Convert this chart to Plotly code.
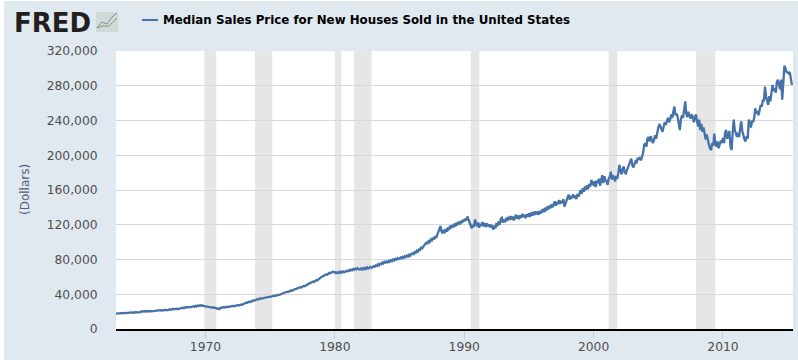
import pandas as pd
import plotly.graph_objects as go

title_text = "Median Sales Price for New Houses Sold in the United States"
y_ticks = [0, 40000, 80000, 120000, 160000, 200000, 240000, 280000, 320000]
x_ticks = ["1970-01-01", "1980-01-01", "1990-01-01", "2000-01-01", "2010-01-01"]
x_labels = ["1970", "1980", "1990", "2000", "2010"]
recession_starts = ["1969-12-01", "1973-11-01", "1980-01-01", "1981-07-01", "1990-07-01", "2001-03-01", "2007-12-01"]
recession_ends = ["1970-11-01", "1975-03-01", "1980-07-01", "1982-11-01", "1991-03-01", "2001-11-01", "2009-06-01"]

first_month = "1963-02-01"
prices_thousand = [
    17.8, 18.2, 18.0, 18.1, 18.3, 18.0, 18.4, 18.2, 18.6, 18.3, 18.5,
    18.9, 18.7, 19.2, 18.8, 19.1, 19.0, 18.7, 19.3, 19.0, 18.8, 19.2, 19.1,
    20.2, 19.8, 20.5, 20.1, 20.6, 20.0, 20.4, 20.7, 20.2, 20.8, 20.3, 20.5,
    21.0, 20.7, 21.4, 21.1, 21.6, 21.2, 21.8, 21.3, 21.5, 21.0, 21.4, 21.7,
    22.0, 21.6, 22.4, 22.8, 22.2, 22.9, 23.2, 22.6, 23.0, 23.4, 22.8, 23.1,
    23.8, 23.4, 24.2, 24.6, 24.0, 24.8, 25.2, 24.6, 25.0, 25.4, 24.9, 25.5,
    25.8, 26.2, 25.6, 26.6, 26.1, 27.0, 26.6, 27.3, 26.8, 27.4, 26.7, 26.4,
    26.0, 26.5, 25.4, 25.8, 24.9, 25.3, 24.6, 25.0, 24.2, 24.6, 23.6, 23.2,
    23.6, 23.0, 24.2, 24.8, 24.4, 25.2, 24.8, 25.3, 25.6, 25.1, 25.8, 26.0,
    26.0, 26.6, 26.2, 26.9, 26.5, 27.2, 27.6, 27.1, 27.9, 28.3, 27.9, 28.6,
    29.4, 29.9, 30.4, 30.1, 31.0, 31.6, 31.2, 32.2, 32.8, 32.4, 33.2, 33.8,
    34.4, 34.0, 34.8, 35.3, 35.0, 35.7, 35.4, 36.0, 36.4, 35.9, 36.6, 36.9,
    37.0, 37.5, 37.2, 38.0, 38.4, 38.1, 38.9, 39.3, 39.0, 39.8, 40.2, 40.6,
    41.2, 41.8, 41.5, 42.4, 43.0, 42.6, 43.6, 44.2, 43.9, 44.8, 45.4, 45.9,
    46.2, 46.8, 46.5, 47.6, 48.2, 47.9, 48.9, 49.6, 49.3, 50.4, 51.0, 51.6,
    52.2, 52.9, 52.6, 53.8, 54.6, 54.3, 55.6, 56.4, 56.2, 57.6, 58.5, 59.4,
    60.2, 61.0, 60.7, 62.0, 62.8, 62.5, 63.8, 64.6, 64.2, 65.4, 66.0, 65.2,
    65.6, 64.2, 65.2, 64.4, 65.8, 64.6, 66.0, 65.0, 66.2, 65.4, 66.6, 67.0,
    66.4, 67.6, 67.0, 68.2, 67.6, 69.0, 68.2, 69.6, 68.6, 70.0, 69.0, 68.6,
    69.6, 68.4, 70.0, 68.8, 70.4, 69.2, 71.0, 69.6, 70.6, 71.4, 70.2, 71.6,
    72.4, 71.6, 73.2, 72.6, 74.4, 73.4, 75.2, 74.6, 76.4, 75.4, 77.2, 76.4,
    77.6, 76.6, 78.4, 77.4, 79.2, 78.2, 80.0, 79.0, 80.6, 79.8, 81.6, 80.6,
    81.0, 82.4, 81.4, 83.0, 82.0, 83.8, 82.8, 84.6, 83.4, 85.4, 84.4, 86.4,
    87.0, 86.2, 88.4, 87.6, 90.0, 89.0, 91.6, 91.0, 93.6, 92.8, 95.4, 96.6,
    98.0, 99.4, 98.8, 101.0, 100.0, 103.0, 102.0, 105.0, 103.0, 107.0, 105.0, 108.5,
    111.0, 117.0, 118.5, 112.0, 110.0, 114.0, 110.5, 115.5, 112.0, 117.0, 114.0, 119.0,
    116.0, 120.0, 117.0, 121.5, 118.0, 122.5, 119.5, 123.5, 120.5, 124.5, 122.0, 126.0,
    124.0, 127.0, 125.0, 129.5, 126.0, 122.0, 119.0, 116.0, 120.0, 117.5, 126.0, 121.0,
    118.0, 122.5, 116.5, 121.0, 119.0, 123.0, 118.0, 122.0, 117.5, 121.5, 118.5, 120.5,
    117.0, 120.0, 116.0, 114.5, 119.0, 116.0, 122.0, 118.5, 124.0, 120.0, 127.0, 128.0,
    122.5, 126.0, 123.0, 128.0, 124.5, 129.0, 125.5, 130.0, 126.0, 129.5, 125.0, 128.5,
    131.5, 127.0, 130.5, 126.5, 131.0, 128.0, 132.5, 129.0, 131.5, 127.5, 132.0, 129.5,
    133.0, 129.0, 134.0, 130.5, 135.0, 131.0, 135.5, 132.0, 135.0, 131.5, 136.0, 133.0,
    135.0, 138.0, 134.5, 139.5, 136.0, 141.0, 137.5, 142.0, 139.0, 143.5, 140.0, 144.5,
    147.0, 142.0, 146.0, 143.5, 148.5, 144.0, 147.5, 145.0, 149.5, 141.0, 146.0, 148.0,
    152.0, 154.5, 149.0, 153.0, 150.5, 155.0, 151.0, 153.5, 149.5, 155.5, 152.5, 157.0,
    160.0, 155.5, 162.0, 158.0, 164.0, 160.0, 165.5, 161.0, 167.0, 164.0, 171.5, 167.0,
    166.0, 170.0, 163.5, 171.0, 168.0, 173.0, 165.0, 171.0, 177.0, 168.0, 176.0, 171.0,
    170.0, 166.0, 173.0, 175.0, 181.0, 172.0, 177.0, 174.0, 170.0, 176.0, 173.0, 180.0,
    189.0, 182.0, 178.0, 184.0, 187.0, 180.0, 179.0, 183.0, 186.0, 190.0, 194.0, 196.0,
    188.0, 186.0, 190.0, 193.0, 192.0, 197.0, 195.0, 198.0, 194.0, 199.0, 203.0, 212.0,
    214.0, 210.0, 219.0, 221.0, 216.0, 222.0, 218.0, 214.0, 217.0, 223.0, 219.0, 227.0,
    232.0, 236.0, 233.0, 229.0, 227.0, 233.0, 238.0, 235.0, 240.0, 243.0, 238.0, 241.0,
    247.0, 243.0, 250.0, 256.0, 246.0, 248.0, 244.0, 236.0, 229.0, 241.0, 246.0, 243.0,
    252.0, 262.0, 248.0, 244.0, 250.0, 247.0, 242.0, 246.0, 245.0, 238.0, 242.0, 247.0,
    239.0, 233.0, 241.0, 229.0, 236.0, 227.0, 232.0, 222.0, 218.0, 224.0, 216.0, 212.0,
    208.0, 206.0, 214.0, 211.0, 225.0, 213.0, 210.0, 216.0, 208.0, 212.0, 217.0, 214.0,
    220.0, 214.0, 226.0, 229.0, 219.0, 223.0, 228.0, 210.0, 206.0, 225.0, 241.0, 229.0,
    224.0, 221.0, 226.0, 221.0, 231.0, 239.0, 228.0, 222.0, 218.0, 216.0, 222.0, 219.0,
    241.0, 236.0, 232.0, 240.0, 238.0, 243.0, 254.0, 248.0, 251.0, 246.0, 255.0, 258.0,
    256.0, 264.0, 262.0, 279.0, 268.0, 262.0, 258.0, 268.0, 262.0, 272.0, 281.0, 274.0,
    277.0, 272.0, 284.0, 287.0, 281.0, 276.0, 287.0, 264.0, 283.0, 303.0, 300.0, 296.0,
    295.0, 294.0, 296.0, 288.0, 281.0,
]

months = pd.date_range(first_month, periods=len(prices_thousand), freq="MS")
prices = [v * 1000 for v in prices_thousand]

BG = "#E1E9F0"
fig = go.Figure(go.Scatter(x=months, y=prices, mode="lines",
                           line=dict(color="#4572A7", width=2.3), hoverinfo="skip"))

H = 278
shapes = [
    dict(type="rect", xref="paper", yref="paper", layer="below", x0=-116/677, x1=-112/677, y0=-31/H, y1=51/H + 1,
         fillcolor="white", line_width=0),
    dict(type="rect", xref="paper", yref="paper", layer="below", x0=-116/677, x1=682/677, y0=1 + 50/H, y1=1 + 51/H,
         fillcolor="white", line_width=0),
    dict(type="line", xref="paper", yref="paper", x0=26/677, x1=42/677, y0=1 + 31/H, y1=1 + 31/H,
         line=dict(color="#4572A7", width=2)),
    dict(type="rect", xref="paper", yref="paper", x0=-20/677, x1=2/677, y0=1 + 19/H, y1=1 + 39/H,
         fillcolor="#D3D8D8", line_width=0),
    dict(type="path", xref="paper", yref="paper",
         path=f"M {-19/677} {1+23/H} L {-14/677} {1+29/H} L {-9/677} {1+27/H} L {-3/677} {1+35/H} L {1/677} {1+38/H}",
         line=dict(color="#7A93A8", width=1)),
    dict(type="path", xref="paper", yref="paper",
         path=f"M {-19/677} {1+23/H} L {-13/677} {1+25/H} L {-7/677} {1+25/H} L {-3/677} {1+29/H} L {1/677} {1+33/H}",
         line=dict(color="#7FA35B", width=1)),
]
for s, e in zip(recession_starts, recession_ends):
    shapes.append(dict(type="rect", xref="x", yref="paper", layer="below", x0=s, x1=e, y0=0, y1=1,
                       fillcolor="#E6E6E6", line_width=0))

annotations = [
    dict(text=f"<b>{title_text}</b>", xref="paper", yref="paper", x=45/677, y=1 + 31/H, xanchor="left", yanchor="middle",
         showarrow=False, font=dict(family="DejaVu Sans", size=11.85, color="#000000")),
    dict(text="<b>FRED</b>", xref="paper", yref="paper", x=-104/677, y=1 + 28/H, xanchor="left", yanchor="middle",
         showarrow=False, font=dict(family="DejaVu Sans", size=26, color="#231F20")),
    dict(text="(Dollars)", xref="paper", yref="paper", x=-91/677, y=139/H, xanchor="center", yanchor="middle",
         textangle=-90, showarrow=False, font=dict(family="DejaVu Sans", size=12, color="#4D6080")),
]

fig.update_layout(
    width=798, height=360, autosize=False,
    margin=dict(l=116, r=5, t=51, b=31, pad=0),
    paper_bgcolor=BG, plot_bgcolor="white", showlegend=False,
    shapes=shapes, annotations=annotations,
    xaxis=dict(automargin=False, range=["1963-02-01", "2015-06-01"], tickvals=x_ticks, ticktext=x_labels, showgrid=False, zeroline=False,
               ticks="outside", ticklen=8, tickcolor="#C0D0E0", tickwidth=1, ticklabelstandoff=-3,
               showline=True, linecolor="black", linewidth=2,
               tickfont=dict(family="DejaVu Sans", size=12.3, color="#4D4D4D")),
    yaxis=dict(automargin=False, range=[0, 320000], tickvals=y_ticks, tickformat=",", showgrid=True, gridcolor="#D8D8D8", gridwidth=1,
               zeroline=False, ticks="outside", ticklen=15, tickcolor="rgba(0,0,0,0)", showline=False,
               tickfont=dict(family="DejaVu Sans", size=12.3, color="#4D4D4D")),
)

fig.write_html("out.html", config=dict(displayModeBar=False),
               post_script="document.body.style.margin='0';")
